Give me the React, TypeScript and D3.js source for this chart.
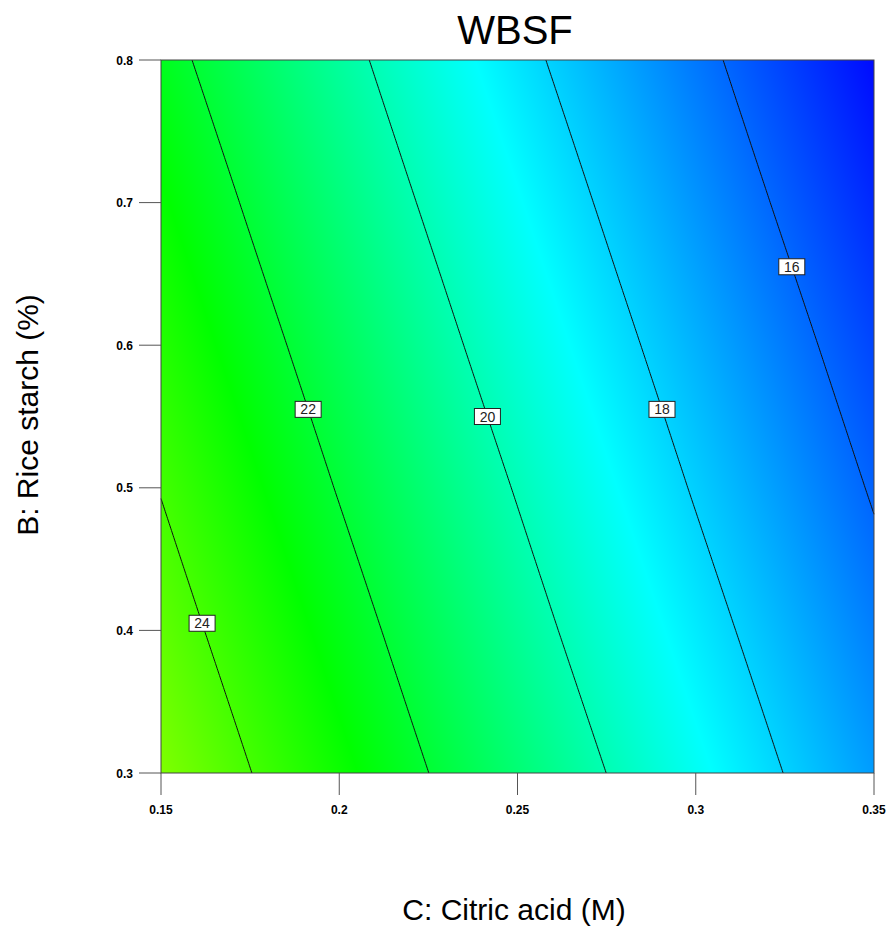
import React, { useMemo } from "react";
import * as d3 from "d3";

const cValues = [0.15, 0.2, 0.25, 0.3, 0.35]; // C: Citric acid (M)
const bValues = [0.3, 0.4, 0.5, 0.6, 0.7, 0.8]; // B: Rice starch (%)

// WBSF response, one array per citric-acid level, over bValues
const wbsfAtC015 = [25.03, 24.49, 23.96, 23.42, 22.89, 22.35];
const wbsfAtC020 = [23.01, 22.48, 21.94, 21.41, 20.87, 20.34];
const wbsfAtC025 = [21.0, 20.46, 19.93, 19.39, 18.86, 18.32];
const wbsfAtC030 = [18.99, 18.45, 17.91, 17.38, 16.84, 16.31];
const wbsfAtC035 = [16.97, 16.44, 15.9, 15.37, 14.83, 14.29];
const wbsfGrid = [wbsfAtC015, wbsfAtC020, wbsfAtC025, wbsfAtC030, wbsfAtC035];

const contourLevels = [16, 18, 20, 22, 24];
const contourLabelB = [0.655, 0.555, 0.55, 0.555, 0.405];

const xTicks = [0.15, 0.2, 0.25, 0.3, 0.35];
const yTicks = [0.3, 0.4, 0.5, 0.6, 0.7, 0.8];

const colorStops = [14.1, 18.8, 22.8, 27.3, 31.8];
const colorRange = ["#0000ff", "#00ffff", "#00ff00", "#ffff00", "#ff0000"];

const W = 893;
const H = 931;
const M = { left: 161, top: 60, right: 19, bottom: 158 };
const PW = W - M.left - M.right;
const PH = H - M.top - M.bottom;
const FONT = "'Liberation Sans', Arial, Helvetica, sans-serif";

function valueAtRow(b: number): number[] {
  let j = d3.bisectRight(bValues, b) - 1;
  j = Math.max(0, Math.min(bValues.length - 2, j));
  const t = (b - bValues[j]) / (bValues[j + 1] - bValues[j]);
  return wbsfGrid.map((col) => col[j] * (1 - t) + col[j + 1] * t);
}

function valueAt(c: number, b: number): number {
  const row = valueAtRow(b);
  let i = d3.bisectRight(cValues, c) - 1;
  i = Math.max(0, Math.min(cValues.length - 2, i));
  const t = (c - cValues[i]) / (cValues[i + 1] - cValues[i]);
  return row[i] * (1 - t) + row[i + 1] * t;
}

function crossingC(level: number, b: number): number | null {
  const row = valueAtRow(b);
  for (let i = 0; i < cValues.length - 1; i++) {
    const v0 = row[i], v1 = row[i + 1];
    if ((v0 - level) * (v1 - level) <= 0 && v0 !== v1) {
      const t = (level - v0) / (v1 - v0);
      return cValues[i] + t * (cValues[i + 1] - cValues[i]);
    }
  }
  return null;
}

function edgeCrossings(level: number, ci: number): number[] {
  const col = wbsfGrid[ci];
  const out: number[] = [];
  for (let j = 0; j < bValues.length - 1; j++) {
    const v0 = col[j], v1 = col[j + 1];
    if ((v0 - level) * (v1 - level) < 0) {
      const t = (level - v0) / (v1 - v0);
      out.push(bValues[j] + t * (bValues[j + 1] - bValues[j]));
    }
  }
  return out;
}

export default function App() {
  const x = d3.scaleLinear().domain([0.15, 0.35]).range([M.left, M.left + PW]);
  const y = d3.scaleLinear().domain([0.3, 0.8]).range([M.top + PH, M.top]);
  const color = d3
    .scaleLinear<string>()
    .domain(colorStops)
    .range(colorRange)
    .interpolate(d3.interpolateRgb)
    .clamp(true);

  const imageHref = useMemo(() => {
    const canvas = document.createElement("canvas");
    canvas.width = PW;
    canvas.height = PH;
    const ctx = canvas.getContext("2d");
    if (!ctx) return "";
    const img = ctx.createImageData(PW, PH);
    for (let py = 0; py < PH; py++) {
      const b = y.invert(M.top + py + 0.5);
      for (let px = 0; px < PW; px++) {
        const c = x.invert(M.left + px + 0.5);
        const col = d3.rgb(color(valueAt(c, b)));
        const k = (py * PW + px) * 4;
        img.data[k] = col.r;
        img.data[k + 1] = col.g;
        img.data[k + 2] = col.b;
        img.data[k + 3] = 255;
      }
    }
    ctx.putImageData(img, 0, 0);
    return canvas.toDataURL();
  }, []);

  const lines = contourLevels.map((level) => {
    const pts: [number, number][] = [];
    const N = 300;
    for (let k = 0; k <= N; k++) {
      const b = 0.3 + (k * 0.5) / N;
      const c = crossingC(level, b);
      if (c !== null) pts.push([c, b]);
    }
    edgeCrossings(level, 0).forEach((b) => pts.push([cValues[0], b]));
    edgeCrossings(level, cValues.length - 1).forEach((b) =>
      pts.push([cValues[cValues.length - 1], b])
    );
    pts.sort((a, b2) => a[1] - b2[1]);
    const line = d3
      .line<[number, number]>()
      .x((d) => x(d[0]))
      .y((d) => y(d[1]));
    return line(pts) || "";
  });

  const labels = contourLevels.map((level, i) => {
    const b = contourLabelB[i];
    const c = crossingC(level, b) ?? 0.25;
    return { level, px: x(c), py: y(b) };
  });

  const axisColor = "#555";

  return (
    <svg
      width={W}
      height={H}
      style={{ position: "absolute", left: 0, top: 0, background: "#fff" }}
      fontFamily={FONT}
    >
      <rect x={0} y={0} width={W} height={H} fill="#fff" />
      <image
        href={imageHref}
        x={M.left}
        y={M.top}
        width={PW}
        height={PH}
        preserveAspectRatio="none"
      />
      {lines.map((d, i) => (
        <path key={i} d={d} fill="none" stroke="#111" strokeWidth={1} />
      ))}
      {labels.map((l, i) => (
        <g key={i} transform={`translate(${l.px},${l.py})`}>
          <rect x={-13} y={-8} width={26} height={16} fill="#fff" stroke="#222" strokeWidth={1} />
          <text x={0} y={5} textAnchor="middle" fontSize={14} fill="#222">
            {l.level}
          </text>
        </g>
      ))}
      <rect
        x={M.left}
        y={M.top}
        width={PW}
        height={PH}
        fill="none"
        stroke="#444"
        strokeWidth={1}
      />
      {yTicks.map((t) => (
        <g key={"y" + t}>
          <line x1={M.left - 22} x2={M.left} y1={y(t)} y2={y(t)} stroke={axisColor} strokeWidth={1} />
          <text
            x={M.left - 28}
            y={y(t) + 4.5}
            textAnchor="end"
            fontSize={12}
            fontWeight="bold"
            fill="#000"
          >
            {String(t)}
          </text>
        </g>
      ))}
      {xTicks.map((t) => (
        <g key={"x" + t}>
          <line x1={x(t)} x2={x(t)} y1={M.top + PH} y2={M.top + PH + 22} stroke={axisColor} strokeWidth={1} />
          <text
            x={x(t)}
            y={M.top + PH + 41}
            textAnchor="middle"
            fontSize={12}
            fontWeight="bold"
            fill="#000"
          >
            {String(t)}
          </text>
        </g>
      ))}
      <text x={515} y={44} textAnchor="middle" fontSize={40} fill="#000">
        WBSF
      </text>
      <text x={514} y={920} textAnchor="middle" fontSize={30} fill="#000">
        C: Citric acid (M)
      </text>
      <text
        transform={`translate(38,415) rotate(-90)`}
        textAnchor="middle"
        fontSize={30}
        fill="#000"
      >
        B: Rice starch (%)
      </text>
    </svg>
  );
}
